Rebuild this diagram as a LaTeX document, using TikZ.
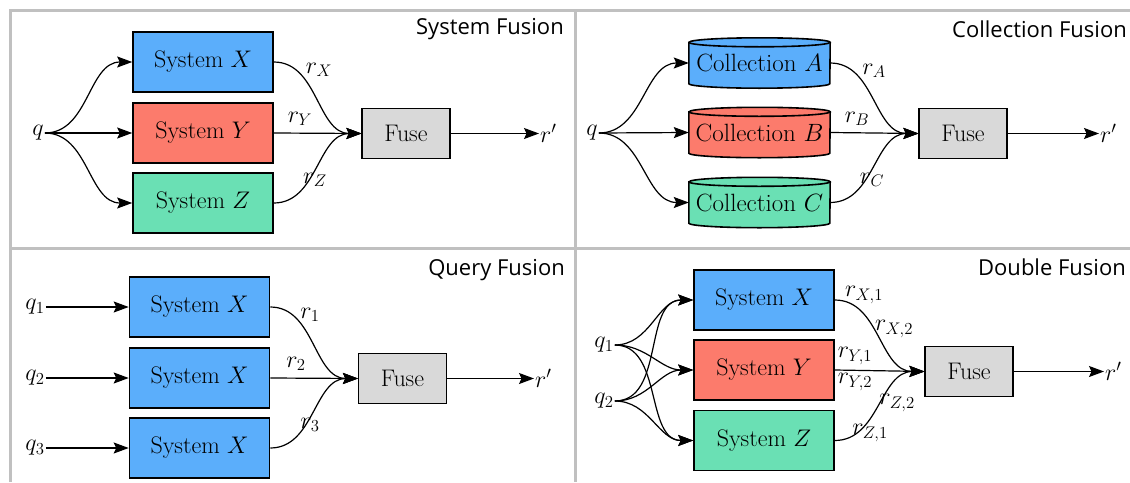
\RequirePackage{fix-cm}
\documentclass[tikz,border=0pt]{standalone}
\usepackage{fontspec}
\setsansfont{Open Sans}
\usetikzlibrary{arrows.meta}
\pgfdeclarelayer{background}
\pgfsetlayers{background,main}

\definecolor{sysblue}{HTML}{5BAEFB}
\definecolor{sysred}{HTML}{FC7B6C}
\definecolor{sysgreen}{HTML}{6AE0B4}
\definecolor{fusegray}{HTML}{D9D9D9}
\definecolor{framegray}{HTML}{C0C0C0}

% drum outline behind a (borderless) node: #1 node, #2 fill colour
\newcommand\drumoutline[2]{%
  \begin{pgfonlayer}{background}
    \filldraw[fill=#2,line width=1.6pt]
      ([yshift=-4.5pt]#1.north west) -- ([yshift=4.5pt]#1.south west)
      arc[start angle=180,end angle=360,x radius=70.5pt,y radius=4.5pt]
      -- ([yshift=-4.5pt]#1.north east)
      arc[start angle=0,end angle=180,x radius=70.5pt,y radius=4.5pt] -- cycle;
    \draw[line width=1.6pt] ([yshift=-4.5pt]#1.north west)
      arc[start angle=180,end angle=360,x radius=70.5pt,y radius=4.5pt];
  \end{pgfonlayer}}

\begin{document}
\begin{tikzpicture}[x=1pt,y=-1pt,
  every node/.style={font=\fontsize{24}{28}\selectfont},
  sysbox/.style={draw,line width=1.6pt,minimum width=140pt,minimum height=60pt,inner sep=0pt},
  drum/.style={minimum width=141pt,minimum height=50pt,inner sep=0pt,font=\fontsize{25}{28}\selectfont},
  fusebox/.style={draw,line width=1.2pt,fill=fusegray,minimum width=88pt,minimum height=50pt,inner sep=0pt},
  flow/.style={line width=1.2pt,-{Stealth[length=15pt,width=11pt,inset=2.5pt]}},
  lbl/.style={inner sep=0pt},
  term/.style={inner sep=1pt},
  title/.style={font=\sffamily\fontsize{22}{26}\selectfont,anchor=east,inner sep=0pt},
  frame/.style={draw=framegray,line width=3pt},
]
\useasboundingbox (0,0) rectangle (1130,482);
\clip (0,0) rectangle (1130,482);

% grid of the four panels
\draw[frame] (10,482) -- (10,10) -- (1130,10);
\draw[frame] (575,10) -- (575,482);
\draw[frame] (10,248) -- (1130,248);

% ---------------- System Fusion ----------------
\node[title] (t1) at (564,29) {System Fusion};
\node[term] (q) at (38,133) {$q$};
\node[sysbox,fill=sysblue]  (sx) at (203,62)  {System $X$};
\node[sysbox,fill=sysred]   (sy) at (203,133) {System $Y$};
\node[sysbox,fill=sysgreen] (sz) at (203,203) {System $Z$};
\node[fusebox] (f1) at (406,133.5) {Fuse};
\node[term,anchor=west] (o1) at (539,133.5) {$r'$};
\draw[flow] (q.east) to[out=0,in=180] (sx.west);
\draw[flow] (q.east) -- (sy.west);
\draw[flow] (q.east) to[out=0,in=180] (sz.west);
\draw[flow] (sx.east) to[out=0,in=180] (f1.west);
\draw[flow] (sy.east) -- (f1.west);
\draw[flow] (sz.east) to[out=0,in=180] (f1.west);
\draw[flow] (f1.east) -- (o1.west);
\node[lbl] (lx) at (319,70)  {$r_X$};
\node[lbl] (ly) at (300,119) {$r_Y$};
\node[lbl] (lz) at (315,180) {$r_Z$};

% ---------------- Collection Fusion ----------------
\node[title] (t2) at (1127,29) {Collection Fusion};
\node[term] (cq) at (592,133) {$q$};
\node[drum] (ca) at (759.5,63)    {Collection $A$};
\node[drum] (cb) at (759.5,132.5) {Collection $B$};
\node[drum] (cc) at (759.5,202.5) {Collection $C$};
\drumoutline{ca}{sysblue}
\drumoutline{cb}{sysred}
\drumoutline{cc}{sysgreen}
\node[fusebox] (f2) at (963,133.5) {Fuse};
\node[term,anchor=west] (o2) at (1099,133.5) {$r'$};
\draw[flow] (cq.east) to[out=0,in=180] (ca.west);
\draw[flow] (cq.east) -- (cb.west);
\draw[flow] (cq.east) to[out=0,in=180] (cc.west);
\draw[flow] (ca.east) to[out=0,in=180] (f2.west);
\draw[flow] (cb.east) -- (f2.west);
\draw[flow] (cc.east) to[out=0,in=180] (f2.west);
\draw[flow] (f2.east) -- (o2.west);
\node[lbl] (la) at (874,71)  {$r_A$};
\node[lbl] (lb) at (857,119) {$r_B$};
\node[lbl] (lc) at (872,180) {$r_C$};

% ---------------- Query Fusion ----------------
\node[title] (t3) at (565,270) {Query Fusion};
\node[term] (q1) at (35,307) {$q_1$};
\node[term] (q2) at (35,378) {$q_2$};
\node[term] (q3) at (35,448) {$q_3$};
\node[sysbox,fill=sysblue] (b1) at (199.5,307) {System $X$};
\node[sysbox,fill=sysblue] (b2) at (199.5,378) {System $X$};
\node[sysbox,fill=sysblue] (b3) at (199.5,448) {System $X$};
\node[fusebox] (f3) at (402.5,378.5) {Fuse};
\node[term,anchor=west] (o3) at (534,378.5) {$r'$};
\draw[flow] (q1.east) -- (b1.west);
\draw[flow] (q2.east) -- (b2.west);
\draw[flow] (q3.east) -- (b3.west);
\draw[flow] (b1.east) to[out=0,in=180] (f3.west);
\draw[flow] (b2.east) -- (f3.west);
\draw[flow] (b3.east) to[out=0,in=180] (f3.west);
\draw[flow] (f3.east) -- (o3.west);
\node[lbl] (l1) at (310,315) {$r_1$};
\node[lbl] (l2) at (296,364) {$r_2$};
\node[lbl] (l3) at (310,425) {$r_3$};

% ---------------- Double Fusion ----------------
\node[title] (t4) at (1126,267) {Double Fusion};
\node[term] (dq1) at (604,345) {$q_1$};
\node[term] (dq2) at (604,401) {$q_2$};
\node[sysbox,fill=sysblue]  (dx) at (764,300)   {System $X$};
\node[sysbox,fill=sysred]   (dy) at (764,370)   {System $Y$};
\node[sysbox,fill=sysgreen] (dz) at (764,440.5) {System $Z$};
\node[fusebox] (f4) at (969,371.5) {Fuse};
\node[term,anchor=west] (o4) at (1104,371.5) {$r'$};
\foreach \src in {dq1,dq2}
  \foreach \dst in {dx,dy,dz}
    \draw[flow] (\src.east) to[out=0,in=180] (\dst.west);
\draw[flow] (dx.east) to[out=0,in=180] (f4.west);
\draw[flow] (dy.east) -- (f4.west);
\draw[flow] (dz.east) to[out=0,in=180] (f4.west);
\draw[flow] (f4.east) -- (o4.west);
\node[lbl] (lx1) at (864,295) {$r_{X,1}$};
\node[lbl] (lx2) at (894,329) {$r_{X,2}$};
\node[lbl] (ly1) at (855,356) {$r_{Y,1}$};
\node[lbl] (ly2) at (855,382) {$r_{Y,2}$};
\node[lbl] (lz2) at (897,403) {$r_{Z,2}$};
\node[lbl] (lz1) at (870,433) {$r_{Z,1}$};
\end{tikzpicture}
\end{document}
